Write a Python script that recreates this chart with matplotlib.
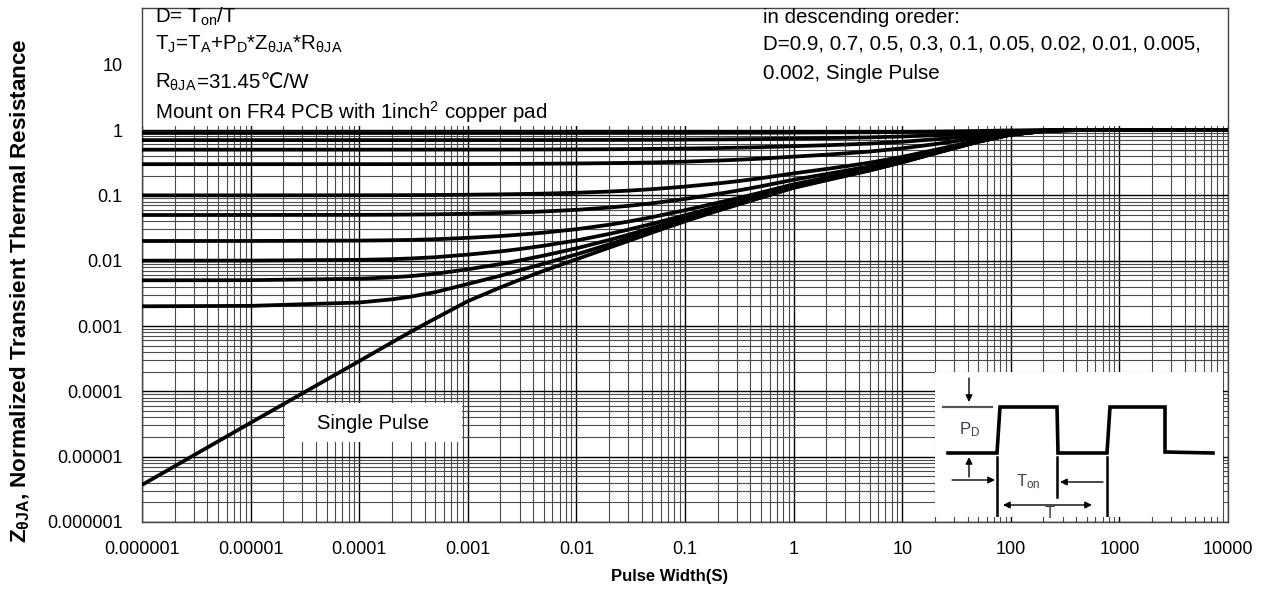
import matplotlib
matplotlib.use('Agg')
import matplotlib.pyplot as plt
from matplotlib.patches import Rectangle
from matplotlib.ticker import LogLocator, NullFormatter

plt.rcParams['font.family'] = ['Liberation Sans', 'DejaVu Sans']
plt.rcParams['mathtext.fontset'] = 'custom'
plt.rcParams['mathtext.rm'] = 'Liberation Sans'
plt.rcParams['mathtext.it'] = 'Liberation Sans:italic'
plt.rcParams['mathtext.bf'] = 'Liberation Sans:bold'

# ---------------- data ----------------
pulse_width = [1e-6, 1e-5, 1e-4, 2e-4, 3e-4, 5e-4, 1e-3, 2e-3, 3e-3, 5e-3, 1e-2,
               2e-2, 3e-2, 5e-2, 0.1, 0.2, 0.3, 0.5, 1, 2, 3, 5, 10,
               20, 30, 50, 100, 200, 300, 500, 1000, 10000]

z_d0_9 = [0.900, 0.900, 0.900, 0.9001, 0.9001, 0.9001, 0.9002, 0.9004, 0.9005, 0.9007, 0.9011,
          0.9016, 0.902, 0.9027, 0.904, 0.9058, 0.9071, 0.9092, 0.913, 0.917, 0.9198, 0.924, 0.932,
          0.944, 0.9527, 0.966, 0.985, 0.996, 0.999, 1.0, 1.0, 1.0]
z_d0_7 = [0.700, 0.700, 0.7001, 0.7002, 0.7002, 0.7004, 0.7007, 0.7012, 0.7015, 0.7021, 0.7032,
          0.7047, 0.706, 0.7081, 0.712, 0.7174, 0.7213, 0.7276, 0.739, 0.751, 0.7594, 0.772, 0.796,
          0.832, 0.8581, 0.898, 0.955, 0.988, 0.997, 1.0, 1.0, 1.0]
z_d0_5 = [0.500, 0.500, 0.5001, 0.5003, 0.5004, 0.5007, 0.5012, 0.502, 0.5026, 0.5035, 0.5053,
          0.5079, 0.51, 0.5135, 0.52, 0.529, 0.5356, 0.546, 0.565, 0.585, 0.599, 0.62, 0.66,
          0.72, 0.7635, 0.83, 0.925, 0.98, 0.995, 1.0, 1.0, 1.0]
z_d0_3 = [0.300, 0.300, 0.3002, 0.3004, 0.3006, 0.3009, 0.3017, 0.3027, 0.3036, 0.3049, 0.3074,
          0.3111, 0.314, 0.3189, 0.328, 0.3406, 0.3498, 0.3644, 0.391, 0.419, 0.4386, 0.468, 0.524,
          0.608, 0.6689, 0.762, 0.895, 0.972, 0.993, 1.0, 1.0, 1.0]
z_d0_1 = [0.100, 0.100, 0.1003, 0.1005, 0.1007, 0.1012, 0.1022, 0.1035, 0.1046, 0.1063, 0.1095,
          0.1142, 0.118, 0.1243, 0.136, 0.1522, 0.164, 0.1828, 0.217, 0.253, 0.2782, 0.316, 0.388,
          0.496, 0.5743, 0.694, 0.865, 0.964, 0.991, 1.0, 1.0, 1.0]
z_d0_05 = [0.05, 0.05003, 0.05028, 0.05053, 0.05078, 0.05124, 0.05228, 0.0537, 0.05485, 0.05665, 0.06,
           0.065, 0.069, 0.07565, 0.088, 0.1051, 0.1175, 0.1374, 0.1735, 0.2115, 0.2381, 0.278, 0.354,
           0.468, 0.5507, 0.677, 0.8575, 0.962, 0.9905, 1.0, 1.0, 1.0]
z_d0_02 = [0.02, 0.02003, 0.02028, 0.02055, 0.0208, 0.02127, 0.02235, 0.02382, 0.025, 0.02686, 0.03029,
           0.03548, 0.0396, 0.04646, 0.0592, 0.07684, 0.08968, 0.1102, 0.1474, 0.1866, 0.214, 0.2552, 0.3336,
           0.4512, 0.5365, 0.6668, 0.853, 0.9608, 0.9902, 1.0, 1.0, 1.0]
z_d0_01 = [0.01, 0.01003, 0.01029, 0.01055, 0.01081, 0.01129, 0.01238, 0.01386, 0.01505, 0.01693, 0.0204,
           0.02564, 0.0298, 0.03673, 0.0496, 0.06742, 0.08039, 0.1011, 0.1387, 0.1783, 0.206, 0.2476, 0.3268,
           0.4456, 0.5317, 0.6634, 0.8515, 0.9604, 0.9901, 1.0, 1.0, 1.0]
z_d0_005 = [0.005004, 0.005033, 0.005289, 0.005557, 0.005816, 0.006294, 0.007388, 0.00888, 0.010075, 0.011965,
            0.015448, 0.020721, 0.0249, 0.031865, 0.0448, 0.06271, 0.07574, 0.09654, 0.1344, 0.1742, 0.202,
            0.2438, 0.3234, 0.4428, 0.5294, 0.6617, 0.8508, 0.9602, 0.99, 1.0, 1.0, 1.0]
z_d0_002 = [0.002004, 0.002033, 0.002289, 0.002559, 0.002818, 0.003297, 0.004395, 0.005892, 0.00709, 0.008986,
            0.012479, 0.017768, 0.02196, 0.028946, 0.04192, 0.05988, 0.07296, 0.09382, 0.1317, 0.1717, 0.1996,
            0.2415, 0.3214, 0.4411, 0.5279, 0.6607, 0.8503, 0.9601, 0.99, 1.0, 1.0, 1.0]
z_single = [3.7e-6, 3.3e-5, 2.9e-4, 5.6e-4, 8.2e-4, 1.3e-3, 2.4e-3, 3.9e-3, 5.1e-3, 7.0e-3, 0.0105,
            0.0158, 0.0200, 0.027, 0.040, 0.058, 0.0711, 0.092, 0.13, 0.17, 0.198, 0.24, 0.32,
            0.44, 0.527, 0.66, 0.85, 0.96, 0.99, 1.0, 1.0, 1.0]

series = [z_d0_9, z_d0_7, z_d0_5, z_d0_3, z_d0_1, z_d0_05, z_d0_02,
          z_d0_01, z_d0_005, z_d0_002, z_single]

x_ticks = [1e-6, 1e-5, 1e-4, 1e-3, 1e-2, 1e-1, 1, 10, 100, 1000, 10000]
x_tick_labels = ['0.000001', '0.00001', '0.0001', '0.001', '0.01', '0.1',
                 '1', '10', '100', '1000', '10000']
y_ticks = [1e-6, 1e-5, 1e-4, 1e-3, 1e-2, 1e-1, 1, 10]
y_tick_labels = ['0.000001', '0.00001', '0.0001', '0.001', '0.01', '0.1', '1', '10']

# ---------------- figure ----------------
W, H = 1265, 592
fig = plt.figure(figsize=(W / 100, H / 100), dpi=100)
ax = fig.add_axes([142 / W, (H - 522) / H, (1228 - 142) / W, (522 - 8) / H])
ax.set_xscale('log')
ax.set_yscale('log')
ax.set_xlim(1e-6, 1e4)
ax.set_ylim(1e-6, 73.7)

for ys in series:
    ax.plot(pulse_width, ys, color='black', lw=2.7, zorder=3,
            solid_capstyle='butt', solid_joinstyle='round')

ax.set_xticks(x_ticks)
ax.set_xticklabels(x_tick_labels)
ax.set_yticks(y_ticks)
ax.set_yticklabels(y_tick_labels)
ax.xaxis.set_minor_locator(LogLocator(base=10, subs=range(2, 10), numticks=100))
ax.yaxis.set_minor_locator(LogLocator(base=10, subs=range(2, 10), numticks=100))
ax.xaxis.set_minor_formatter(NullFormatter())
ax.yaxis.set_minor_formatter(NullFormatter())
ax.tick_params(which='both', length=0)
ax.tick_params(axis='x', labelsize=13, pad=14)
ax.tick_params(axis='y', labelsize=13, pad=14)
ax.set_axisbelow(True)
ax.grid(True, which='major', color='black', lw=1.0)
ax.grid(True, which='minor', color='#4a4a4a', lw=0.8)
for s in ax.spines.values():
    s.set_color('#444444')
    s.set_linewidth(1.0)

# white annotation band above 1
ax.axhspan(1.15, 73.7, color='white', zorder=2, lw=0)

# "Single Pulse" label box
ax.add_patch(Rectangle((2.07e-5, 1.66e-5), 8.85e-4 - 2.07e-5, 6.6e-5 - 1.66e-5,
                       facecolor='white', edgecolor='none', zorder=2))
ax.text(1.34e-4, 3.27e-5, 'Single Pulse', fontsize=14.5, ha='center', va='center', zorder=5)

# pulse diagram box
ax.add_patch(Rectangle((20, 1.19e-6), 9000 - 20, 2.0e-4 - 1.19e-6,
                       facecolor='white', edgecolor='none', zorder=2))

# annotation texts
fs = 14.8
ax.text(0.012, 0.9708, r'D= T$_{\mathrm{on}}$/T', transform=ax.transAxes, fontsize=fs,
        va='baseline', zorder=5)
ax.text(0.012, 0.9183, r'T$_{\mathrm{J}}$=T$_{\mathrm{A}}$+P$_{\mathrm{D}}$*Z$_{\mathrm{θJA}}$*R$_{\mathrm{θJA}}$',
        transform=ax.transAxes, fontsize=fs, va='baseline', zorder=5)
r_y = 0.8440
t_r = ax.text(0.012, r_y, r'R$_{\mathrm{θJA}}$', transform=ax.transAxes, fontsize=fs,
              va='baseline', zorder=5)
fig.canvas.draw()
bb = t_r.get_window_extent(renderer=fig.canvas.get_renderer())
x_after = ax.transAxes.inverted().transform((bb.x1, 0))[0]
ax.text(x_after, r_y, '=31.45℃/W', transform=ax.transAxes, fontsize=fs,
        va='baseline', zorder=5, family=['Liberation Sans', 'DejaVu Sans'])
ax.text(0.012, 0.7840, r'Mount on FR4 PCB with 1inch$^{2}$ copper pad', transform=ax.transAxes,
        fontsize=fs, va='baseline', zorder=5)
ax.text(0.5718, 0.9708, 'in descending oreder:', transform=ax.transAxes, fontsize=fs,
        va='baseline', zorder=5)
ax.text(0.5718, 0.9183, 'D=0.9, 0.7, 0.5, 0.3, 0.1, 0.05, 0.02, 0.01, 0.005,',
        transform=ax.transAxes, fontsize=fs, va='baseline', zorder=5)
ax.text(0.5718, 0.8619, '0.002, Single Pulse', transform=ax.transAxes, fontsize=fs,
        va='baseline', zorder=5)

# axis labels
ax.set_xlabel('Pulse Width(S)', fontsize=12, fontweight='bold')
ax.xaxis.set_label_coords((670 - 142) / 1086, (522 - 569) / 514)
ax.set_ylabel(r'$\mathbf{Z_{θJA}}$, Normalized Transient Thermal Resistance',
              fontsize=16.2, fontweight='bold')
ax.yaxis.set_label_coords((32 - 142) / 1086, (522 - 291) / 514)

# ---------------- pulse schematic (decoration) ----------------
ix0, iy0, iw, ih = 935, 370, 287, 147
ax2 = fig.add_axes([ix0 / W, (H - iy0 - ih) / H, iw / W, ih / H])
ax2.set_xlim(0, iw)
ax2.set_ylim(ih, 0)
ax2.axis('off')
ax2.patch.set_alpha(0)
ax2.set_zorder(4)

wave_x = [13, 62, 65, 122, 123, 172, 175, 230, 230, 278]
wave_y = [83, 83, 37, 37, 83, 83, 37, 37, 82, 83]
ax2.plot(wave_x, wave_y, color='black', lw=2.6, solid_joinstyle='miter')
ax2.plot([8, 57], [37, 37], color='#555555', lw=1.6)
ax2.plot([62, 62], [87, 147], color='black', lw=1.8)
ax2.plot([122, 122], [87, 127], color='black', lw=1.8)
ax2.plot([172, 172], [87, 147], color='black', lw=1.8)
ap = dict(arrowstyle='-|>', color='black', lw=1.0, mutation_scale=10, shrinkA=0, shrinkB=0)
ax2.annotate('', xy=(34, 32), xytext=(34, 8), arrowprops=ap)
ax2.annotate('', xy=(34, 87), xytext=(34, 107), arrowprops=ap)
ax2.annotate('', xy=(60, 110), xytext=(17, 110), arrowprops=ap)
ax2.annotate('', xy=(125, 112), xytext=(168, 112), arrowprops=ap)
ax2.annotate('', xy=(157, 135), xytext=(68, 135), arrowprops=dict(arrowstyle='<|-|>', color='black',
             lw=1.0, mutation_scale=10, shrinkA=0, shrinkB=0))
ax2.text(24, 60, r'P$_{\mathrm{D}}$', fontsize=12, color='#3c3c55', ha='left', va='center')
ax2.text(93, 112, r'T$_{\mathrm{on}}$', fontsize=12, color='#3c3c55', ha='center', va='center')
ax2.text(115, 144, 'T', fontsize=12, color='#3c3c55', ha='center', va='center')

fig.savefig('out.png', dpi=100)
